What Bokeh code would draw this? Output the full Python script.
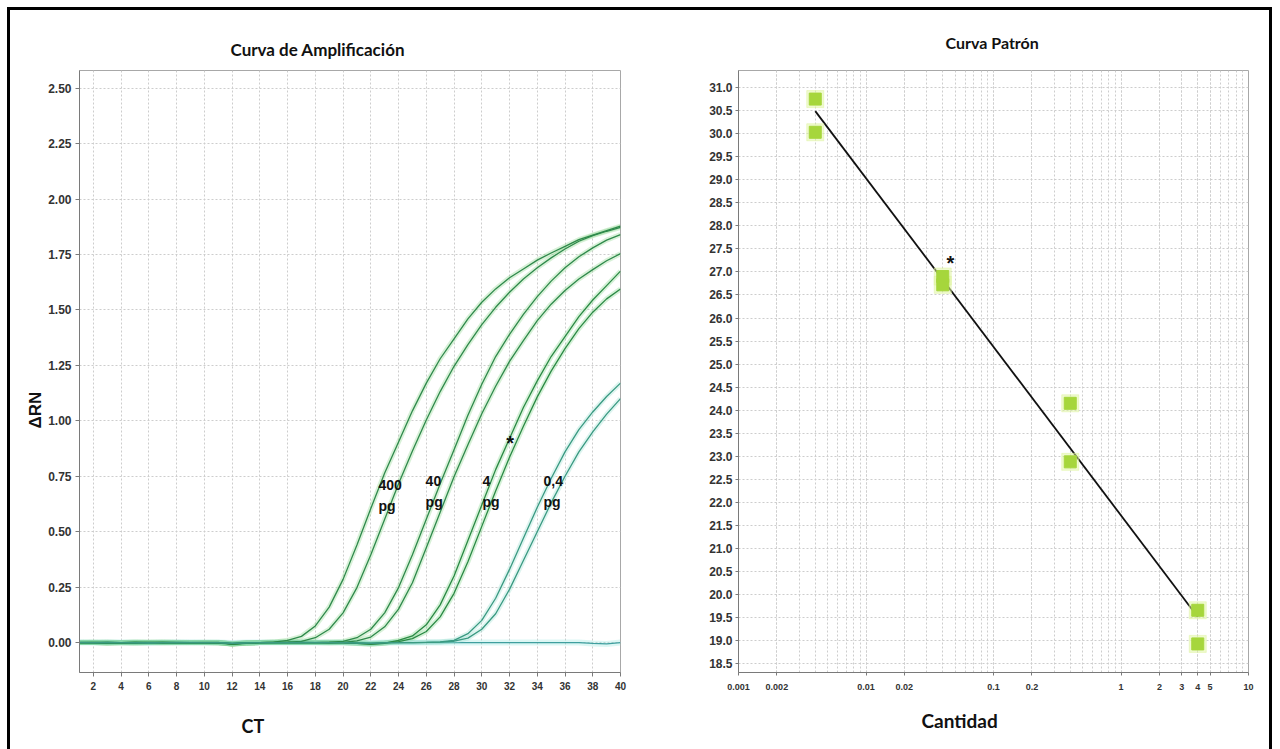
import numpy as np
from bokeh.plotting import figure
from bokeh.models import (FixedTicker, Label, Title, NumeralTickFormatter,
                          CustomJSTickFormatter)
from bokeh.layouts import row
from bokeh.embed import file_html
from bokeh.resources import INLINE
from bokeh.core.properties import value

# ---------------- amplification data (delta Rn per cycle) ----------------
cycles = list(range(1, 41))

drn_400_a = [0.000, 0.000, -0.003, 0.000, 0.002, 0.000, -0.002, 0.000, 0.000, 0.001,
             0.000, -0.006, -0.002, 0.000, 0.002, 0.010, 0.028, 0.075, 0.160, 0.285,
             0.440, 0.605, 0.765, 0.905, 1.045, 1.170, 1.280, 1.370, 1.460, 1.535,
             1.595, 1.645, 1.685, 1.725, 1.757, 1.787, 1.817, 1.838, 1.858, 1.878]
drn_400_b = [0.000, 0.001, -0.002, 0.000, 0.000, 0.002, 0.000, -0.001, 0.000, 0.000,
             0.001, -0.008, -0.003, 0.000, 0.001, 0.002, 0.005, 0.022, 0.060, 0.134,
             0.248, 0.396, 0.556, 0.716, 0.864, 1.004, 1.132, 1.246, 1.344, 1.434,
             1.512, 1.580, 1.640, 1.690, 1.735, 1.775, 1.810, 1.835, 1.855, 1.872]
drn_40_a = [0.000, 0.000, 0.002, 0.000, -0.002, 0.000, 0.000, 0.001, 0.000, 0.000,
            -0.002, -0.007, -0.002, 0.000, 0.000, 0.001, 0.000, 0.000, 0.002, 0.005,
            0.022, 0.060, 0.134, 0.248, 0.396, 0.556, 0.716, 0.870, 1.025, 1.165,
            1.290, 1.390, 1.480, 1.560, 1.630, 1.690, 1.740, 1.780, 1.815, 1.840]
drn_40_b = [0.001, 0.000, 0.000, -0.002, 0.000, 0.000, 0.002, 0.000, 0.000, -0.001,
            0.000, -0.005, -0.001, 0.000, 0.000, 0.000, 0.001, 0.000, -0.002, 0.001,
            0.008, 0.025, 0.071, 0.151, 0.270, 0.428, 0.588, 0.748, 0.892, 1.032,
            1.156, 1.268, 1.362, 1.452, 1.526, 1.588, 1.640, 1.682, 1.722, 1.754]
drn_4_a = [0.000, 0.000, -0.002, 0.000, 0.001, 0.000, 0.000, 0.000, -0.001, 0.000,
           0.000, -0.006, -0.002, 0.000, 0.001, 0.000, 0.000, 0.000, 0.001, 0.000,
           -0.004, -0.008, -0.003, 0.010, 0.030, 0.080, 0.170, 0.300, 0.460, 0.620,
           0.780, 0.920, 1.060, 1.180, 1.290, 1.380, 1.470, 1.545, 1.610, 1.675]
drn_4_b = [0.000, 0.001, 0.000, 0.000, -0.002, 0.000, 0.001, 0.000, 0.000, 0.000,
           -0.001, -0.005, -0.002, 0.000, 0.000, 0.001, 0.000, 0.000, 0.000, -0.001,
           -0.003, -0.006, -0.002, 0.004, 0.018, 0.050, 0.116, 0.222, 0.364, 0.524,
           0.684, 0.836, 0.976, 1.108, 1.224, 1.326, 1.416, 1.490, 1.550, 1.595]
drn_04_a = [0.000, 0.000, 0.001, 0.000, 0.000, -0.002, 0.000, 0.000, 0.001, 0.000,
            0.000, -0.004, -0.001, 0.000, 0.000, 0.000, 0.001, 0.000, 0.000, 0.000,
            -0.002, -0.004, -0.001, 0.000, 0.000, 0.001, 0.003, 0.010, 0.040, 0.100,
            0.200, 0.330, 0.470, 0.610, 0.740, 0.860, 0.960, 1.040, 1.110, 1.170]
drn_04_b = [0.001, 0.000, 0.000, 0.000, -0.001, 0.000, 0.000, 0.001, 0.000, 0.000,
            0.000, -0.003, -0.001, 0.000, 0.000, 0.000, 0.000, 0.001, 0.000, 0.000,
            -0.001, -0.003, 0.000, 0.000, 0.000, 0.001, 0.002, 0.006, 0.020, 0.060,
            0.130, 0.240, 0.370, 0.500, 0.630, 0.750, 0.860, 0.950, 1.030, 1.100]
drn_ntc = [0.000, 0.000, 0.000, 0.000, 0.000, -0.001, 0.000, 0.000, 0.000, 0.000,
           0.000, -0.002, 0.000, 0.000, 0.000, 0.000, 0.000, 0.000, 0.000, 0.000,
           0.000, -0.002, 0.000, 0.000, 0.000, 0.000, 0.000, 0.000, 0.000, 0.000,
           0.000, 0.000, 0.000, 0.000, 0.000, 0.000, 0.000, -0.004, -0.006, 0.000]

amount_labels = ["400", "40", "4", "0,4"]
amount_label_ct = [22.55, 25.95, 30.05, 34.45]

left_xticks = list(range(2, 41, 2))
left_yticks = [0.0, 0.25, 0.5, 0.75, 1.0, 1.25, 1.5, 1.75, 2.0, 2.25, 2.5]

# ---------------- standard curve data ----------------
quantity = [0.004, 0.004, 0.04, 0.04, 0.4, 0.4, 4.0, 4.0]
ct_value = [30.75, 30.03, 26.90, 26.72, 24.15, 22.88, 19.66, 18.93]

right_xticks = [0.001, 0.002, 0.01, 0.02, 0.1, 0.2, 1, 2, 3, 4, 5, 10]
right_minor = [m * 10.0 ** e for e in range(-3, 1) for m in range(1, 10)] + [10.0]
right_yticks = [18.5 + 0.5 * i for i in range(26)]

TICK_FONT = value("Liberation Sans")
TITLE_FONT = "Lato"
GRID = "#cdcdcd"
FIG_H = 780


def style_title(t, text, offset, standoff, size, font=TITLE_FONT):
    t.text = text
    t.align = "left"
    t.offset = offset
    t.standoff = standoff
    t.text_font = font
    t.text_font_style = "bold"
    t.text_font_size = size
    t.text_color = "#111111"
    return t


# ================= left: amplification plot =================
p1 = figure(width=630, height=FIG_H, x_range=(1, 40), y_range=(-0.135, 2.58),
            output_backend="svg", toolbar_location=None,
            min_border_left=69, min_border_right=20, min_border_top=60,
            min_border_bottom=FIG_H - 662, background_fill_color="white",
            border_fill_color="white")
p1.outline_line_color = "#a8a8a8"

p1.xaxis.ticker = FixedTicker(ticks=left_xticks)
p1.yaxis.ticker = FixedTicker(ticks=left_yticks)
p1.yaxis.formatter = NumeralTickFormatter(format="0.00")
for ax in (p1.xaxis[0], p1.yaxis[0]):
    ax.axis_line_color = "#7a7a7a"
    ax.major_tick_line_color = "#7a7a7a"
    ax.major_tick_out = 4
    ax.major_tick_in = 0
    ax.minor_tick_line_color = None
    ax.major_label_text_font = "Liberation Sans"
    ax.major_label_text_font_style = "bold"
    ax.major_label_text_color = "#333333"
p1.yaxis.major_label_text_font_size = "12px"
p1.yaxis.major_label_standoff = 4
p1.xaxis.major_label_text_font_size = "10px"
p1.xaxis.major_label_standoff = 5
p1.grid.grid_line_color = GRID
p1.grid.grid_line_dash = "2 2"

curves = [
    (drn_400_a, "#2f8a4c", "#7fd07f"), (drn_400_b, "#2f8a4c", "#7fd07f"),
    (drn_40_a, "#2f8a4c", "#7fd07f"), (drn_40_b, "#2f8a4c", "#7fd07f"),
    (drn_4_a, "#2b8a45", "#6fd07a"), (drn_4_b, "#2b8a45", "#6fd07a"),
    (drn_04_a, "#3a9a82", "#8fdccb"), (drn_04_b, "#3a9a82", "#8fdccb"),
]
p1.line(cycles, drn_ntc, line_color="#9ee8e0", line_width=6, line_alpha=0.35)
p1.line(cycles, drn_ntc, line_color="#3f9f9f", line_width=1.3)
for ys, core, glow in curves:
    p1.line(cycles, ys, line_color=glow, line_width=5, line_alpha=0.3)
for ys, core, glow in curves:
    p1.line(cycles, ys, line_color=core, line_width=1.3)

p1.text(x=amount_label_ct, y=[0.71, 0.73, 0.73, 0.73], text=amount_labels,
        text_font=TICK_FONT, text_font_style="bold", text_font_size="14px",
        text_baseline="middle", text_align="left", text_color="#111111")
p1.text(x=amount_label_ct, y=[0.615, 0.635, 0.635, 0.635], text=["pg"] * 4,
        text_font=TICK_FONT, text_font_style="bold", text_font_size="14px",
        text_baseline="middle", text_align="left", text_color="#111111")
p1.add_layout(Label(x=32.05, y=0.90, text="*", text_font_size="20px",
                    text_font="Liberation Sans", text_font_style="bold",
                    text_align="center", text_baseline="middle",
                    text_color="#111111"))

style_title(p1.title, "Curva de Amplificación", 151, 21, "17px")
p1.add_layout(style_title(Title(), "ΔRN", 244, 2, "17px",
                          font="Liberation Sans"), "left")
p1.add_layout(style_title(Title(), "CT", 162, 41, "18px"), "below")

# ================= right: standard curve =================
p2 = figure(width=629, height=FIG_H, x_axis_type="log", x_range=(0.001, 10),
            y_range=(18.31, 31.37), output_backend="svg",
            toolbar_location=None, min_border_left=98, min_border_right=21,
            min_border_top=60, min_border_bottom=FIG_H - 665,
            background_fill_color="white", border_fill_color="white")
p2.outline_line_color = "#a8a8a8"

p2.xaxis.ticker = FixedTicker(ticks=right_xticks, minor_ticks=right_minor)
p2.xaxis.formatter = CustomJSTickFormatter(code="return tick.toString();")
p2.yaxis.ticker = FixedTicker(ticks=right_yticks)
p2.yaxis.formatter = NumeralTickFormatter(format="0.0")
for ax in (p2.xaxis[0], p2.yaxis[0]):
    ax.axis_line_color = "#7a7a7a"
    ax.major_tick_line_color = "#7a7a7a"
    ax.major_tick_out = 3
    ax.major_tick_in = 0
    ax.minor_tick_line_color = None
    ax.major_label_text_font = "Liberation Sans"
    ax.major_label_text_font_style = "bold"
    ax.major_label_text_color = "#333333"
p2.yaxis.major_label_text_font_size = "12px"
p2.yaxis.major_label_standoff = 3
p2.xaxis.major_label_text_font_size = "9px"
p2.xaxis.major_label_standoff = 7
p2.grid.grid_line_color = GRID
p2.grid.grid_line_dash = "2 2"
p2.xgrid.minor_grid_line_color = GRID
p2.xgrid.minor_grid_line_dash = "2 2"

slope, intercept = np.polyfit(np.log10(quantity), ct_value, 1)
fit_x = [min(quantity), max(quantity)]
fit_y = [slope * np.log10(v) + intercept for v in fit_x]
p2.line(fit_x, fit_y, line_color="#111111", line_width=1.8)

p2.scatter(quantity, ct_value, marker="square", size=17, color="#dff5a0",
           alpha=0.5)
p2.scatter(quantity, ct_value, marker="square", size=12, color="#a6d63c")

p2.add_layout(Label(x=0.046, y=27.2, text="*", text_font_size="20px",
                    text_font="Liberation Sans", text_font_style="bold",
                    text_align="center", text_baseline="middle",
                    text_color="#111111"))
style_title(p2.title, "Curva Patrón", 207, 37, "16px")
p2.add_layout(style_title(Title(), "Cantidad", 183, 29, "19px"), "below")

layout = row(p1, p2, margin=(7, 0, 0, 7),
             styles={"border": "3px solid #000000"})

open("out.html", "w").write(file_html(layout, INLINE))
